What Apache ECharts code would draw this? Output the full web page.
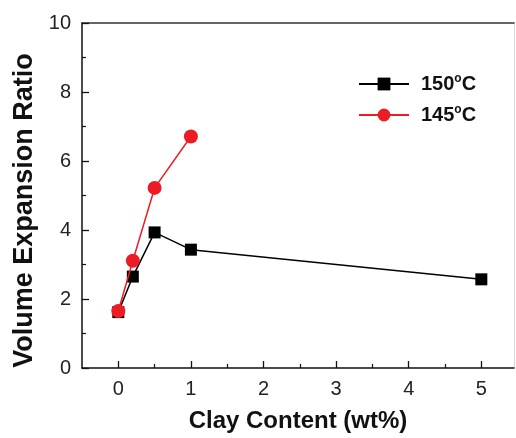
<!DOCTYPE html>
<html>
<head>
<meta charset="utf-8">
<script src="https://cdn.jsdelivr.net/npm/echarts@6/dist/echarts.min.js"></script>
<style>
  html, body { margin: 0; padding: 0; background: #fff; }
  #chart { width: 516px; height: 438px; }
</style>
</head>
<body>
<div id="chart"></div>
<script>
// Clay content (wt%) for each series
const clay150 = [0, 0.2, 0.5, 1, 5];
const clay145 = [0, 0.2, 0.5, 1];
// Volume expansion ratio
const ratio150 = [1.62, 2.65, 3.93, 3.43, 2.57];
const ratio145 = [1.65, 3.11, 5.22, 6.71];
// Axis ticks
const xMajorTicks = [0, 1, 2, 3, 4, 5];
const xMinorTicks = [0.5, 1.5, 2.5, 3.5, 4.5];
const seriesNames = ['150\u00B0C', '145\u00B0C'];

const FONT = '"Liberation Sans", Arial, sans-serif';
const xMin = -0.5, xMax = 5.45;

const chart = echarts.init(document.getElementById('chart'), null, { renderer: 'canvas' });

chart.setOption({
  animation: false,
  backgroundColor: '#fff',
  grid: { left: 82, top: 23, right: 2, bottom: 69 },
  legend: {
    left: 358,
    top: 73,
    padding: 0,
    orient: 'vertical',
    itemWidth: 50,
    itemHeight: 16,
    itemGap: 9,
    data: seriesNames,
    formatter: function (name) {
      const num = name.replace('\u00B0C', '');
      return '{n|' + num + '}{s|o}{n|C}';
    },
    textStyle: {
      padding: [0, 0, 0, 7],
      rich: {
        n: { fontFamily: FONT, fontSize: 20, fontWeight: 'bold', color: '#111', lineHeight: 22 },
        s: { fontFamily: FONT, fontSize: 12, fontWeight: 'bold', color: '#111', lineHeight: 22, padding: [0, 0, 10, 0] }
      }
    }
  },
  xAxis: [
    {
      type: 'value',
      min: xMin,
      max: xMax,
      position: 'bottom',
      name: 'Clay Content (wt%)',
      nameLocation: 'middle',
      nameGap: 41,
      nameTextStyle: { fontFamily: FONT, fontSize: 24, fontWeight: 'bold', color: '#111' },
      splitLine: { show: false },
      axisLine: { onZero: false, lineStyle: { color: '#111', width: 1.5 } },
      axisTick: { inside: true, length: 7, customValues: xMajorTicks, lineStyle: { color: '#111', width: 1.3 } },
      axisLabel: { customValues: xMajorTicks, margin: 11, fontFamily: FONT, fontSize: 20, color: '#222' }
    },
    {
      // minor ticks on the bottom axis
      type: 'value',
      min: xMin,
      max: xMax,
      position: 'bottom',
      splitLine: { show: false },
      axisLine: { show: false, onZero: false },
      axisTick: { inside: true, length: 4, customValues: xMinorTicks, lineStyle: { color: '#111', width: 1.2 } },
      axisLabel: { show: false }
    },
    {
      // top frame
      type: 'value',
      min: xMin,
      max: xMax,
      position: 'top',
      splitLine: { show: false },
      axisLine: { onZero: false, lineStyle: { color: '#333', width: 1.5 } },
      axisTick: { show: false },
      axisLabel: { show: false }
    }
  ],
  yAxis: [
    {
      type: 'value',
      min: 0,
      max: 10,
      interval: 2,
      position: 'left',
      name: 'Volume Expansion Ratio',
      nameLocation: 'middle',
      nameGap: 44,
      nameTextStyle: { fontFamily: FONT, fontSize: 27, fontWeight: 'bold', color: '#111', padding: [0, 30, 0, 0] },
      splitLine: { show: false },
      axisLine: { show: true, onZero: false, lineStyle: { color: '#111', width: 1.5 } },
      axisTick: { inside: true, length: 7, lineStyle: { color: '#111', width: 1.3 } },
      minorTick: { show: true, splitNumber: 2, length: 4, lineStyle: { color: '#111', width: 1.2 } },
      axisLabel: { margin: 11, fontFamily: FONT, fontSize: 20, color: '#222' }
    },
    {
      // right frame
      type: 'value',
      min: 0,
      max: 10,
      position: 'right',
      splitLine: { show: false },
      axisLine: { show: true, onZero: false, lineStyle: { color: '#d8d8d8', width: 1 } },
      axisTick: { show: false },
      axisLabel: { show: false }
    }
  ],
  series: [
    {
      name: seriesNames[0],
      type: 'line',
      xAxisIndex: 0,
      yAxisIndex: 0,
      data: clay150.map((x, i) => [x, ratio150[i]]),
      symbol: 'rect',
      symbolSize: 12,
      color: '#000',
      lineStyle: { color: '#000', width: 1.5 },
      itemStyle: { color: '#000' },
      z: 2
    },
    {
      name: seriesNames[1],
      type: 'line',
      xAxisIndex: 0,
      yAxisIndex: 0,
      data: clay145.map((x, i) => [x, ratio145[i]]),
      symbol: 'circle',
      symbolSize: 14,
      color: '#ec1c24',
      lineStyle: { color: '#ec1c24', width: 1.5 },
      itemStyle: { color: '#ec1c24' },
      z: 3
    }
  ]
});
</script>
</body>
</html>
